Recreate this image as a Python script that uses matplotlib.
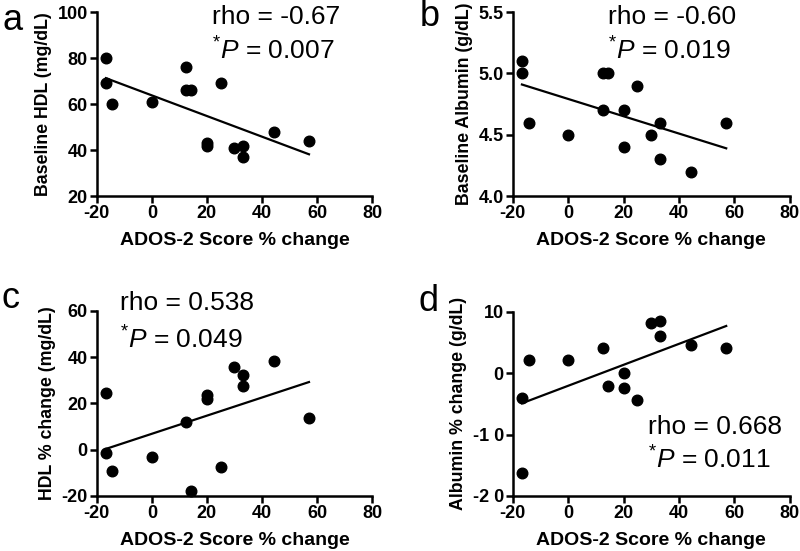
import matplotlib
matplotlib.use("Agg")
import matplotlib.pyplot as plt
import numpy as np

plt.rcParams['font.family'] = ['Liberation Sans', 'DejaVu Sans']
plt.rcParams['mathtext.fontset'] = 'custom'
plt.rcParams['mathtext.rm'] = 'Liberation Sans'
plt.rcParams['mathtext.it'] = 'Liberation Sans:italic'
plt.rcParams['axes.unicode_minus'] = False

# ADOS-2 score % change (x) for panels a/b (15 subjects) and c/d (14 subjects)
ados_ab = [-16.7, -16.7, -14.3, 0, 12.5, 12.5, 14.3, 20, 20, 25, 30, 33.3, 33.3, 44.4, 57.1]
hdl_base = [80, 69, 60, 61, 76, 66, 66, 43, 42, 69, 41, 42, 37, 48, 44]
ados_b = [-16.7, -16.7, -14.3, 0, 12.5, 14.3, 12.5, 20, 20, 25, 30, 33.3, 33.3, 44.4, 57.1]
alb_base = [5.1, 5.0, 4.6, 4.5, 5.0, 5.0, 4.7, 4.7, 4.4, 4.9, 4.5, 4.6, 4.3, 4.2, 4.6]

ados_c = [-16.7, -16.7, -14.3, 0, 12.5, 14.3, 20, 20, 25, 30, 33.3, 33.3, 44.4, 57.1]
hdl_change = [24.4, -1.5, -9.2, -3.4, 11.9, -17.8, 23.5, 22, -7.7, 35.9, 32.3, 27.3, 38.4, 13.6]
ados_d = [-16.7, -16.7, -14.3, 0, 12.5, 14.3, 20, 20, 25, 30, 33.3, 33.3, 44.4, 57.1]
alb_change = [-4.0, -16.2, 2.1, 2.1, 4.1, -2.1, 0.0, -2.4, -4.4, 8.2, 8.5, 6.1, 4.6, 4.1]

# regression line end points
fit_x = [-16.7, 57.1]
fit_a = [71.3, 38.2]
fit_b = [4.91, 4.39]
fit_c = [0.3, 29.2]
fit_d = [-4.9, 7.7]

panels = [
    ('a', ados_ab, hdl_base, fit_a, 'Baseline HDL (mg/dL)', (20, 100), [20, 40, 60, 80, 100], None,
     'rho = -0.67', '0.007', (0.42, 0.973, 0.79)),
    ('b', ados_b, alb_base, fit_b, 'Baseline Albumin (g/dL)', (4.0, 5.5), [4.0, 4.5, 5.0, 5.5],
     ['4.0', '4.5', '5.0', '5.5'], 'rho = -0.60', '0.019', (0.345, 0.973, 0.79)),
    ('c', ados_c, hdl_change, fit_c, 'HDL % change (mg/dL)', (-20, 60), [-20, 0, 20, 40, 60], None,
     'rho = 0.538', '0.049', (0.084, 1.04, 0.84)),
    ('d', ados_d, alb_change, fit_d, 'Albumin % change (g/dL)', (-20, 10), [-20, -10, 0, 10],
     ['-2 0', '-1 0', '0', '10'], 'rho = 0.668', '0.011', (0.487, 0.375, 0.196)),
]

boxes = [
    [0.121, 0.644, 0.344, 0.334],
    [0.641, 0.644, 0.346, 0.334],
    [0.121, 0.100, 0.344, 0.336],
    [0.641, 0.100, 0.346, 0.334],
]
letter_pos = [(0.016, 0.962), (0.537, 0.97), (0.013, 0.458), (0.535, 0.453)]

fig = plt.figure(figsize=(8, 5.51), dpi=100)

for (letter, x, y, fit, ylabel, ylim, yticks, ylabs, rho, p, tpos), box, lp in zip(panels, boxes, letter_pos):
    ax = fig.add_axes(box)
    ax.scatter(x, y, s=58, color='black', zorder=3, clip_on=False)
    ax.plot(fit_x, fit, color='black', lw=1.6)
    ax.set_xlim(-20, 80)
    ax.set_ylim(*ylim)
    ax.set_xticks([-20, 0, 20, 40, 60, 80])
    ax.set_yticks(yticks)
    if ylabs:
        ax.set_yticklabels(ylabs)
    for s in ['top', 'right']:
        ax.spines[s].set_visible(False)
    for s in ['left', 'bottom']:
        ax.spines[s].set_linewidth(1.8)
    ax.tick_params(width=1.8, length=5, labelsize=13, pad=1.5)
    for lab in ax.get_xticklabels() + ax.get_yticklabels():
        lab.set_fontweight('bold')
    ax.set_xlabel('ADOS-2 Score % change', fontsize=14, fontweight='bold', labelpad=7)
    ax.set_ylabel(ylabel, fontsize=12.8, fontweight='bold', labelpad=4)
    tx, ty1, ty2 = tpos
    ax.text(tx, ty1, rho, transform=ax.transAxes, fontsize=19, va='center', ha='left')
    ax.text(tx, ty2, r'$^{*}\mathit{P}$ = ' + p, transform=ax.transAxes, fontsize=19,
            va='center', ha='left')
    fig.text(lp[0], lp[1], letter, fontsize=26, va='center', ha='center')

fig.savefig('out.png', dpi=100)
